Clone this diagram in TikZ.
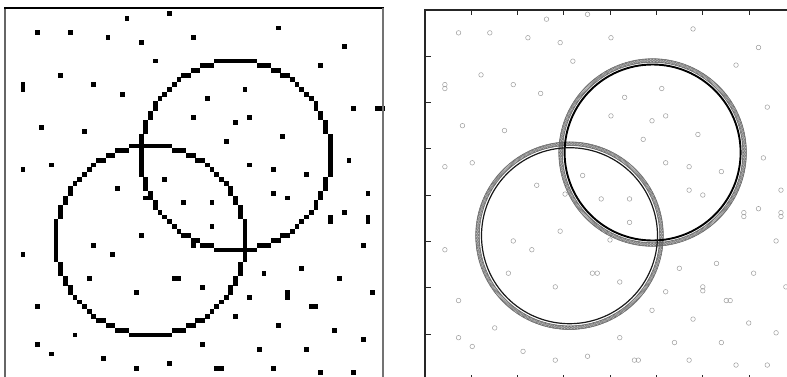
\documentclass[tikz,border=0pt]{standalone}
\usetikzlibrary{calc}
\newcommand\lcell{4.725}
\newcommand\lox{23}
\newcommand\loy{61}
\newcommand\lpix[2]{%
  \pgfmathsetmacro\pxx{round((#1-\lox)/\lcell)*\lcell+\lox}%
  \pgfmathsetmacro\pyy{round((#2-\loy)/\lcell)*\lcell+\loy}%
  \fill[black] (\pxx-2.42,\pyy-2.42) rectangle (\pxx+2.42,\pyy+2.42);}
\newcommand\lcellat[2]{%
  \pgfmathsetmacro\pxx{\lox+(#1)*\lcell}%
  \pgfmathsetmacro\pyy{\loy+(#2)*\lcell}%
  \fill[black] (\pxx-2.42,\pyy-2.42) rectangle (\pxx+2.42,\pyy+2.42);}
\newcommand\lring[2]{%
  \foreach \i in {-14,...,14} {%
    \pgfmathtruncatemacro\j{round(sqrt(400-\i*\i))}%
    \lcellat{#1+\i}{#2+\j}\lcellat{#1+\i}{#2-\j}%
    \lcellat{#1+\j}{#2+\i}\lcellat{#1-\j}{#2+\i}}}
\newcommand\ptlist{127/19,169/14,37/33,69/33,108/38,141/43,193/38,154/62,60/76,23/86,23/90,93/86,121/95,193/118,41/128,84/133,23/170,51/166,164/179,117/189,
277/29,344/48,321/66,245/90,207/99,235/123,249/118,353/109,376/109,381/109,226/142,282/137,349/161,249/166,273/170,306/175,
183/203,141/236,93/246,23/255,112/255,88/279,174/279,179/279,136/293,37/307,74/335,37/345,51/354,103/359,136/368,169/364,146/198,192/245,
273/194,287/199,367/194,212/203,344/213,329/217,329/221,367/217,367/221,212/227,362/246,263/274,301/269,339/279,202/288,249/298,287/293,287/297,372/293,311/307,315/307,235/317,277/326,334/330,362/340,202/345,258/350,306/350,217/368,221/368,273/368,321/373,353/373}
\begin{document}
\begin{tikzpicture}[x=1pt,y=-1pt,
  datapt/.style={draw=black!38,line width=0.5pt},
  ringpt/.style={draw=black!60,line width=0.4pt},
  tick/.style={draw=black!85,line width=1pt}]
\useasboundingbox (0,0) rectangle (787,376);
\fill[white] (0,0) rectangle (787,376);
\clip (0,0) rectangle (787,376);
% ---------- left panel (raster) ----------
\foreach \x/\y in \ptlist {\lpix{\x}{\y}}
\lring{45}{20}
\lring{27}{38}
\draw[black!60,line width=1.6pt] (5,395) -- (5,8);
\draw[black,line width=1.2pt] (4.2,8) -- (383.6,8);
\draw[black!55,line width=1.2pt] (383,8) -- (383,395);
% ---------- right panel (plot) ----------
\foreach \x/\y in \ptlist {\draw[datapt] ({422.4+0.977*\x},{0.6+0.977*\y}) circle (2.3);}
\foreach \a in {0,0.9,...,359.2} {\draw[ringpt] ({652.6+92*cos(\a)},{152.5+92*sin(\a)}) circle (2.0);}
\foreach \a in {0,0.9,...,359.2} {\draw[ringpt] ({569.5+92*cos(\a)},{235.7+92*sin(\a)}) circle (2.0);}
\draw[black,line width=1.9pt] (652.6,152.5) circle (88);
\draw[black!90,line width=1.2pt] (569.5,235.7) circle (88);
\draw[black!85,line width=1.4pt] (425,381) -- (425,10) -- (800,10);
\draw[black!85,line width=1.4pt] (425,380.4) -- (800,380.4);
\foreach \k in {1,...,7} {
  \draw[tick] (425+46.3*\k,10) -- ++(0,5);
  \draw[tick] (425+46.3*\k,380.4) -- ++(0,-5);
  \draw[tick] (425,10+46.3*\k) -- ++(5.5,0);
}
\end{tikzpicture}
\end{document}
